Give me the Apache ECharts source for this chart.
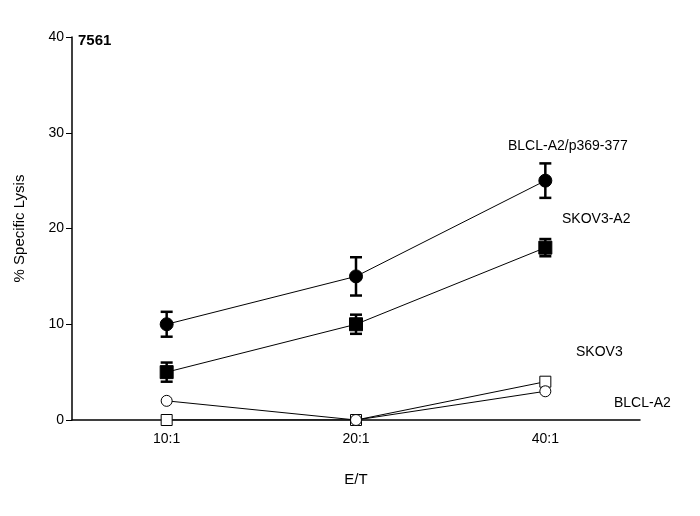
<!DOCTYPE html>
<html><head><meta charset="utf-8">
<script src="https://cdn.jsdelivr.net/npm/echarts@6/dist/echarts.min.js"></script>
<style>html,body{margin:0;background:#fff}#c{width:700px;height:516px}</style>
</head><body><div id="c"></div>
<script>
const ratios = ['10:1', '20:1', '40:1'];
const peptide = [10, 15, 25];
const peptideErr = [1.3, 2, 1.8];
const skov3A2 = [5, 10, 18];
const skov3A2Err = [1, 1, 0.9];
const skov3 = [0, 0, 4];
const blclA2 = [2, 0, 3];

const chart = echarts.init(document.getElementById('c'));
const font = 'Arial, Liberation Sans, sans-serif';

function errSeries(vals, errs) {
  return {
    type: 'custom', z: 1, silent: true,
    data: vals.map((v, i) => [i, v, errs[i]]),
    renderItem: (params, api) => {
      const i = api.value(0), v = api.value(1), e = api.value(2);
      const top = api.coord([i, v + e]), bot = api.coord([i, v - e]);
      const w = 6, st = { stroke: '#000', lineWidth: 2.5 };
      return { type: 'group', children: [
        { type: 'line', shape: { x1: top[0], y1: top[1], x2: bot[0], y2: bot[1] }, style: st },
        { type: 'line', shape: { x1: top[0] - w, y1: top[1], x2: top[0] + w, y2: top[1] }, style: st },
        { type: 'line', shape: { x1: bot[0] - w, y1: bot[1], x2: bot[0] + w, y2: bot[1] }, style: st }
      ]};
    }
  };
}

function line(name, data, symbol, filled) {
  return {
    name, type: 'line', data, symbol, symbolSize: filled ? 13 : 11, z: 3,
    lineStyle: { color: '#000', width: 1 },
    itemStyle: { color: filled ? '#000' : '#fff', borderColor: '#000', borderWidth: 1 }
  };
}

chart.setOption({
  animation: false,
  grid: { left: 72, right: 60, top: 37, bottom: 96 },
  xAxis: {
    type: 'category', data: ratios,
    axisLine: { lineStyle: { color: '#000', width: 1.5 } },
    axisTick: { alignWithLabel: true, length: 6, lineStyle: { color: '#000' } },
    axisLabel: { color: '#000', fontSize: 14, fontFamily: font, margin: 12 },
    name: 'E/T', nameLocation: 'middle', nameGap: 52,
    nameTextStyle: { color: '#000', fontSize: 15, fontFamily: font }
  },
  yAxis: {
    type: 'value', min: 0, max: 40, interval: 10,
    splitLine: { show: false },
    axisLine: { show: true, lineStyle: { color: '#000', width: 1.5 } },
    axisTick: { show: true, length: 6, lineStyle: { color: '#000' } },
    axisLabel: { color: '#000', fontSize: 14, fontFamily: font },
    name: '% Specific Lysis', nameLocation: 'middle', nameGap: 45,
    nameTextStyle: { color: '#000', fontSize: 15, fontFamily: font }
  },
  series: [
    errSeries(peptide, peptideErr),
    errSeries(skov3A2, skov3A2Err),
    line('BLCL-A2/p369-377', peptide, 'circle', true),
    line('SKOV3-A2', skov3A2, 'rect', true),
    line('SKOV3', skov3, 'rect', false),
    line('BLCL-A2', blclA2, 'circle', false)
  ],
  graphic: [
    { type: 'text', left: 78, top: 33, style: { text: '7561', font: 'bold 15px ' + font, fill: '#000' } },
    { type: 'text', left: 508, top: 139, style: { text: 'BLCL-A2/p369-377', font: '14px ' + font, fill: '#000' } },
    { type: 'text', left: 562, top: 212, style: { text: 'SKOV3-A2', font: '14px ' + font, fill: '#000' } },
    { type: 'text', left: 576, top: 345, style: { text: 'SKOV3', font: '14px ' + font, fill: '#000' } },
    { type: 'text', left: 614, top: 396, style: { text: 'BLCL-A2', font: '14px ' + font, fill: '#000' } }
  ]
});
</script></body></html>
